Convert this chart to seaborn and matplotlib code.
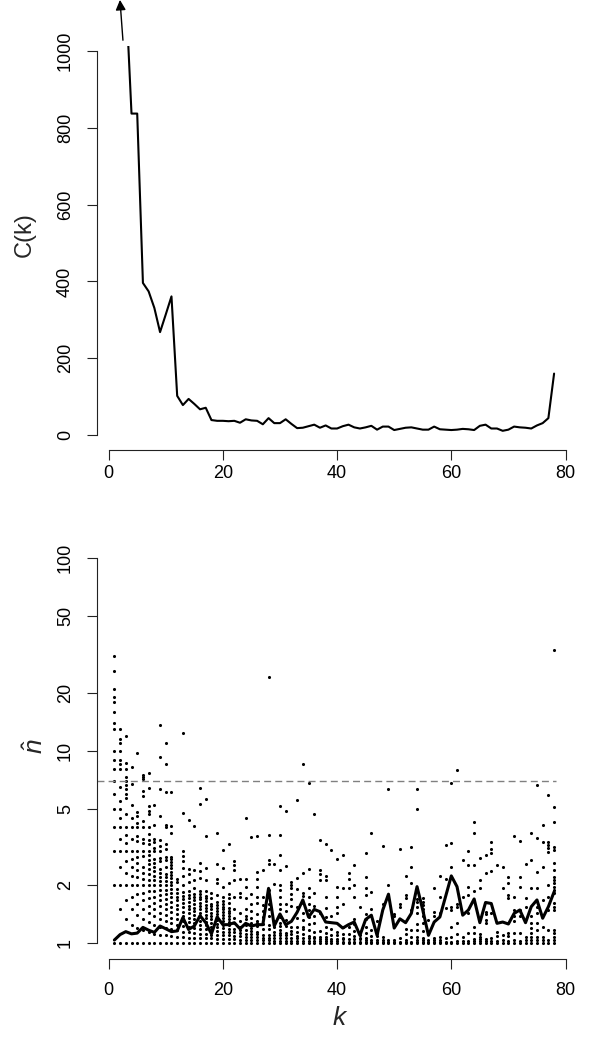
import matplotlib
matplotlib.use('Agg')
import matplotlib.pyplot as plt
import seaborn as sns

# top panel: C(k) for k = 3..78 (k = 3 runs off the top of the axis)
k_top = list(range(3, 79))
cost_top = [1155, 837, 837, 396, 374, 331, 268, 314, 361, 102,
            78, 94, 81, 67, 71, 39, 37, 37, 36, 37,
            32, 41, 38, 37, 28, 44, 31, 31, 41, 29,
            18, 19, 23, 27, 19, 25, 17, 17, 23, 27,
            20, 17, 20, 24, 14, 22, 22, 13, 16, 19,
            20, 17, 14, 14, 22, 15, 14, 13, 14, 16,
            15, 13, 24, 27, 17, 17, 11, 14, 22, 20,
            19, 17, 25, 31, 44, 160]
cost_ticks = [0, 200, 400, 600, 800, 1000]

# bottom panel: n-hat estimates for k = 1..78
k_bottom = list(range(1, 79))
nhat_mean = [1.04, 1.11, 1.15, 1.12, 1.13, 1.21, 1.17, 1.14, 1.23, 1.19,
             1.15, 1.16, 1.36, 1.18, 1.23, 1.39, 1.28, 1.12, 1.37, 1.25,
             1.25, 1.28, 1.19, 1.27, 1.23, 1.25, 1.25, 1.93, 1.23, 1.42,
             1.25, 1.30, 1.45, 1.68, 1.37, 1.50, 1.46, 1.29, 1.28, 1.27,
             1.20, 1.25, 1.29, 1.10, 1.33, 1.40, 1.10, 1.49, 1.80, 1.20,
             1.34, 1.28, 1.43, 1.97, 1.49, 1.10, 1.29, 1.37, 1.75, 2.24,
             1.97, 1.40, 1.49, 1.70, 1.28, 1.63, 1.61, 1.27, 1.29, 1.26,
             1.43, 1.49, 1.28, 1.55, 1.68, 1.35, 1.55, 1.85]
nhat_threshold = 7
nhat_ticks = [1, 2, 5, 10, 20, 50, 100]

dots_k01_20 = [
    [1, 2, 3, 4, 5, 6, 7, 8, 9, 10, 13, 14, 16, 18, 19, 21, 26, 31],
    [1, 1.5, 2, 2.5, 3, 3.5, 4, 4.5, 5, 5.5, 6.5, 8, 8.5, 9, 10, 11, 11.5, 13],
    [1, 1.33, 1.67, 2, 2.33, 2.67, 3, 3.33, 3.67, 4, 4.67, 5.67, 6, 6.33, 6.67, 7, 7.33, 8, 8.67, 12],
    [1, 1.25, 1.5, 1.75, 2, 2.25, 2.5, 2.75, 3, 3.5, 4, 4.5, 5.25, 6.75, 8.25],
    [1, 1.2, 1.4, 1.6, 1.8, 2, 2.2, 2.4, 2.6, 2.8, 3, 3.4, 3.6, 4, 4.2, 4.6, 4.8, 9.8],
    [1, 1.17, 1.33, 1.5, 1.67, 1.83, 2, 2.17, 2.33, 2.5, 2.83, 3, 3.33, 3.5, 4, 4.33, 5.83, 6.17, 7.17, 7.33, 7.5],
    [1, 1.14, 1.29, 1.43, 1.57, 1.71, 1.86, 2, 2.14, 2.29, 2.43, 2.57, 2.71, 2.86, 3, 3.29, 3.43, 3.71, 4, 4.71, 4.86, 5.14, 6.43, 7.71],
    [1, 1.12, 1.25, 1.38, 1.5, 1.62, 1.75, 1.88, 2, 2.12, 2.25, 2.38, 2.5, 2.62, 2.75, 3, 3.12, 3.38, 3.5, 4.12, 5.25],
    [1, 1.11, 1.22, 1.33, 1.44, 1.56, 1.67, 1.78, 1.89, 2, 2.11, 2.22, 2.33, 2.44, 2.67, 2.78, 3, 3.22, 3.44, 4.56, 6.33, 9.33, 13.56],
    [1, 1.1, 1.2, 1.3, 1.4, 1.5, 1.6, 1.7, 1.8, 1.9, 2, 2.1, 2.2, 2.3, 2.5, 2.7, 2.8, 3.1, 3.3, 4, 4.1, 6.1, 8.5, 11],
    [1, 1.09, 1.18, 1.27, 1.36, 1.45, 1.55, 1.64, 1.73, 1.82, 1.91, 2, 2.09, 2.18, 2.27, 2.36, 2.45, 2.55, 2.64, 2.73, 2.82, 3.73, 4.09, 6.09],
    [1, 1.08, 1.17, 1.25, 1.33, 1.42, 1.5, 1.58, 1.67, 1.75, 1.83, 1.92, 2.08, 2.17],
    [1, 1.08, 1.15, 1.23, 1.31, 1.38, 1.46, 1.54, 1.62, 1.69, 1.77, 1.85, 2, 2.23, 2.46, 2.69, 2.85, 3, 4.77, 12.31],
    [1, 1.07, 1.14, 1.21, 1.29, 1.36, 1.43, 1.5, 1.57, 1.64, 1.71, 1.79, 1.86, 2.07, 2.29, 2.43, 4.36],
    [1, 1.07, 1.13, 1.2, 1.27, 1.33, 1.4, 1.47, 1.53, 1.6, 1.67, 1.73, 1.8, 1.93, 2.13, 2.4, 4.07],
    [1, 1.06, 1.12, 1.19, 1.25, 1.31, 1.38, 1.44, 1.5, 1.56, 1.62, 1.69, 1.75, 1.81, 1.88, 2.19, 2.38, 2.62, 5.31, 6.38],
    [1, 1.06, 1.12, 1.18, 1.24, 1.29, 1.35, 1.41, 1.47, 1.53, 1.59, 1.65, 1.71, 1.76, 1.88, 2.12, 2.47, 3.59, 5.59],
    [1, 1.06, 1.11, 1.17, 1.22, 1.28, 1.33, 1.39, 1.44, 1.5, 1.56, 1.61, 1.72, 1.83],
    [1, 1.05, 1.11, 1.16, 1.21, 1.26, 1.32, 1.37, 1.42, 1.47, 1.53, 1.58, 1.63, 1.79, 2.05, 2.16, 2.58, 3.74],
    [1, 1.05, 1.1, 1.15, 1.2, 1.25, 1.3, 1.35, 1.4, 1.45, 1.5, 1.55, 1.6, 1.65, 1.75, 1.95, 2.45, 3.05],
]
dots_k21_40 = [
    [1, 1.05, 1.1, 1.14, 1.19, 1.24, 1.29, 1.33, 1.38, 1.43, 1.48, 1.52, 1.62, 1.71, 1.81, 2.05, 3.29],
    [1, 1.05, 1.09, 1.14, 1.18, 1.27, 1.36, 1.5, 1.73, 2.14, 2.41, 2.55, 2.68],
    [1, 1.04, 1.09, 1.13, 1.17, 1.22, 1.3, 1.43, 1.74, 1.83, 2.17],
    [1, 1.04, 1.08, 1.12, 1.17, 1.25, 1.33, 1.38, 1.5, 1.71, 1.96, 2.17, 4.5],
    [1, 1.04, 1.08, 1.12, 1.16, 1.2, 1.28, 1.36, 1.48, 1.6, 1.8, 3.56],
    [1, 1.04, 1.08, 1.12, 1.15, 1.23, 1.27, 1.31, 1.42, 1.62, 1.73, 1.96, 2.15, 2.35, 3.62],
    [1, 1.04, 1.07, 1.11, 1.19, 1.26, 1.37, 1.48, 1.59, 1.74, 2.41],
    [1, 1.04, 1.07, 1.11, 1.18, 1.25, 1.39, 1.5, 1.61, 1.75, 1.89, 2.57, 2.71, 3.64, 24.1],
    [1, 1.03, 1.07, 1.1, 1.14, 1.21, 1.31, 2.03, 2.59],
    [1, 1.03, 1.07, 1.1, 1.13, 1.17, 1.23, 1.27, 1.37, 1.5, 1.6, 1.73, 1.9, 2.0, 2.4, 2.87, 3.67, 5.17],
    [1, 1.03, 1.06, 1.1, 1.13, 1.23, 1.32, 1.48, 1.61, 2.52, 4.87],
    [1, 1.03, 1.06, 1.12, 1.16, 1.22, 1.56, 1.69, 1.81, 1.94, 2.0, 2.09],
    [1, 1.03, 1.06, 1.09, 1.15, 1.21, 1.36, 1.55, 1.91, 2.18, 5.55],
    [1, 1.03, 1.06, 1.12, 1.18, 1.21, 1.32, 1.44, 1.62, 1.76, 1.82, 2.32, 8.5],
    [1, 1.03, 1.06, 1.09, 1.17, 1.26, 1.37, 1.49, 1.6, 1.74, 1.94, 2.43, 6.8],
    [1, 1.03, 1.06, 1.08, 1.14, 1.27, 1.39, 1.56, 1.83, 4.7],
    [1, 1.03, 1.05, 1.08, 1.16, 1.43, 2.14, 2.3, 2.41, 3.46],
    [1, 1.03, 1.05, 1.08, 1.13, 1.21, 1.37, 1.53, 1.74, 2.13, 2.24, 3.29],
    [1, 1.03, 1.05, 1.1, 1.18, 1.38, 3.05],
    [1, 1.03, 1.05, 1.1, 1.15, 1.43, 1.55, 1.75, 1.95, 2.73],
]
dots_k41_60 = [
    [1, 1.02, 1.05, 1.07, 1.12, 1.22, 1.61, 1.93, 2.88],
    [1, 1.02, 1.05, 1.12, 1.21, 1.93, 2.17, 2.31],
    [1, 1.02, 1.05, 1.09, 1.16, 1.26, 1.33, 1.74, 2.0, 2.56],
    [1, 1.02, 1.05, 1.07, 1.11, 1.55],
    [1, 1.02, 1.04, 1.07, 1.13, 1.22, 1.33, 1.42, 1.78, 1.93, 2.22, 2.93],
    [1, 1.02, 1.04, 1.09, 1.17, 1.5, 1.85, 3.74],
    [1, 1.02, 1.04, 1.09, 1.13, 1.17, 1.3],
    [1, 1.02, 1.04, 1.08, 1.6, 3.19],
    [1, 1.02, 1.04, 2.0, 6.31],
    [1, 1.02, 1.04, 1.38, 1.42],
    [1, 1.02, 1.06, 1.55, 1.61, 3.1],
    [1, 1.02, 1.04, 1.12, 1.19, 1.71, 1.79, 2.23],
    [1, 1.02, 1.08, 1.17, 1.49, 2.06, 2.49, 3.15],
    [1, 1.02, 1.04, 1.08, 1.17, 1.26, 1.43, 1.55, 1.64, 1.7, 4.96, 6.31],
    [1, 1.02, 1.04, 1.07, 1.16, 1.27, 1.38, 1.45, 1.51, 1.58, 1.64, 1.71],
    [1, 1.02, 1.04, 1.32],
    [1, 1.02, 1.04, 1.07, 1.38, 1.46, 1.93],
    [1, 1.02, 1.04, 1.08, 1.43, 1.75, 2.24],
    [1, 1.02, 1.06, 1.53, 2.17, 3.24],
    [1, 1.02, 1.08, 1.22, 1.49, 1.55, 2.5, 3.31, 6.83],
]
dots_k61_78 = [
    [1, 1.03, 1.12, 1.27, 1.55, 1.61, 7.92],
    [1, 1.03, 1.08, 1.75, 2.71],
    [1, 1.03, 1.13, 1.43, 1.78, 1.97, 2.55, 3.0],
    [1, 1.03, 1.05, 1.13, 1.22, 1.86, 2.55, 3.73, 4.28],
    [1, 1.03, 1.05, 1.08, 1.12, 1.94, 2.12, 2.77],
    [1, 1.03, 1.05, 1.27, 1.32, 1.42, 1.45, 2.32, 2.88],
    [1, 1.03, 1.06, 1.43, 2.37, 2.94, 3.1, 3.36],
    [1, 1.03, 1.09, 1.15, 2.56],
    [1, 1.04, 1.1, 1.93, 2.49],
    [1, 1.03, 1.09, 1.13, 1.71, 1.79, 2.06, 2.21],
    [1, 1.04, 1.13, 1.3, 1.38, 1.49, 1.75, 3.61],
    [1, 1.03, 1.13, 1.38, 1.49, 1.97, 2.22, 3.4],
    [1, 1.04, 1.08, 1.55, 1.71, 2.58],
    [1, 1.04, 1.08, 1.13, 1.2, 1.27, 1.38, 1.93, 2.72, 3.76],
    [1, 1.04, 1.08, 1.17, 1.27, 1.43, 1.55, 1.93, 2.36, 3.51, 6.64],
    [1, 1.04, 1.08, 1.22, 1.68, 2.5, 3.37, 4.12],
    [1, 1.04, 1.17, 1.49, 1.75, 2.01, 2.99, 3.12, 3.25, 3.38, 5.92],
    [1, 1.04, 1.08, 1.13, 1.17, 1.49, 1.55, 1.62, 1.82, 1.9, 1.97, 2.05,
     2.13, 2.22, 2.41, 2.6, 3.05, 3.18, 4.28, 5.09, 33.4],
]
k_ticks = [0, 20, 40, 60, 80]

sns.set_style('ticks')
plt.rcParams['font.family'] = ['Liberation Sans', 'DejaVu Sans']
plt.rcParams['mathtext.fontset'] = 'custom'
plt.rcParams['mathtext.it'] = 'Liberation Sans:italic'
plt.rcParams['mathtext.rm'] = 'Liberation Sans'

fig = plt.figure(figsize=(6, 10.61), dpi=100)
ax_top = fig.add_axes([0.1613, 0.5755, 0.7915, 0.3808])
ax_bot = fig.add_axes([0.1613, 0.0964, 0.7915, 0.3919])
xlim = (-2.08, 81.08)
axis_col = '#222222'


def style_axes(ax, xpad):
    """R-like axes: only left/bottom lines, spanning the tick range."""
    sns.despine(ax=ax)
    for side in ('left', 'bottom'):
        ax.spines[side].set_linewidth(0.8)
        ax.spines[side].set_color(axis_col)
    ax.tick_params(length=7.5, width=0.8, color=axis_col, labelsize=13,
                   labelcolor='black')
    ax.tick_params(axis='x', pad=xpad)
    ax.tick_params(axis='y', pad=9)
    ax.set_xlim(*xlim)
    ax.set_xticks(k_ticks)
    ax.set_xticklabels([str(t) for t in k_ticks])
    ax.spines['bottom'].set_bounds(k_ticks[0], k_ticks[-1])
    ax.set_xlabel('')
    ax.set_ylabel('')
    ax.grid(False)


# ---- top panel ----
sns.lineplot(x=k_top, y=cost_top, ax=ax_top, color='black', linewidth=1.5)
ax_top.set_ylim(-40, 1012)
ax_top.set_yticks(cost_ticks)
ax_top.set_yticklabels([str(t) for t in cost_ticks], rotation=90, va='center')
style_axes(ax_top, 3)
ax_top.spines['left'].set_bounds(cost_ticks[0], cost_ticks[-1])
# arrow: first value lies off the scale
ax_top.annotate('', xy=(1.98, 1133), xytext=(2.5, 1028),
                arrowprops=dict(arrowstyle='-|>', color='black', lw=1,
                                mutation_scale=15, shrinkA=0, shrinkB=0),
                annotation_clip=False)

# ---- bottom panel ----
dot_groups = dots_k01_20 + dots_k21_40 + dots_k41_60 + dots_k61_78
dot_k, dot_n = [], []
for k, vals in zip(k_bottom, dot_groups):
    dot_k += [k] * len(vals)
    dot_n += vals

ax_bot.set_yscale('log')
sns.scatterplot(x=dot_k, y=dot_n, ax=ax_bot, color='black', s=5,
                linewidth=0, marker='o')
sns.lineplot(x=k_bottom, y=nhat_mean, ax=ax_bot, color='black', linewidth=2.2)
ax_bot.axhline(nhat_threshold, xmin=0, xmax=(78.3 - xlim[0]) / (xlim[1] - xlim[0]),
               color='#808080', linewidth=1, dashes=(5, 3))
ax_bot.set_ylim(10 ** -0.08, 10 ** 2.08)
ax_bot.yaxis.set_minor_locator(matplotlib.ticker.NullLocator())
ax_bot.set_yticks(nhat_ticks)
ax_bot.set_yticklabels([str(t) for t in nhat_ticks], rotation=90, va='center')
style_axes(ax_bot, 9)
ax_bot.spines['left'].set_bounds(nhat_ticks[0], nhat_ticks[-1])

# axis labels
fig.text(25 / 600, 1 - 235 / 1061, 'C(k)', rotation=90, ha='center',
         va='center', fontsize=17)
fig.text(36 / 600, 1 - 746 / 1061, r'$\hat{n}$', rotation=90, ha='center',
         va='center', fontsize=19)
fig.text(340 / 600, 1 - 1018 / 1061, r'$k$', ha='center', va='center',
         fontsize=19)

fig.savefig('out.png', dpi=100)
